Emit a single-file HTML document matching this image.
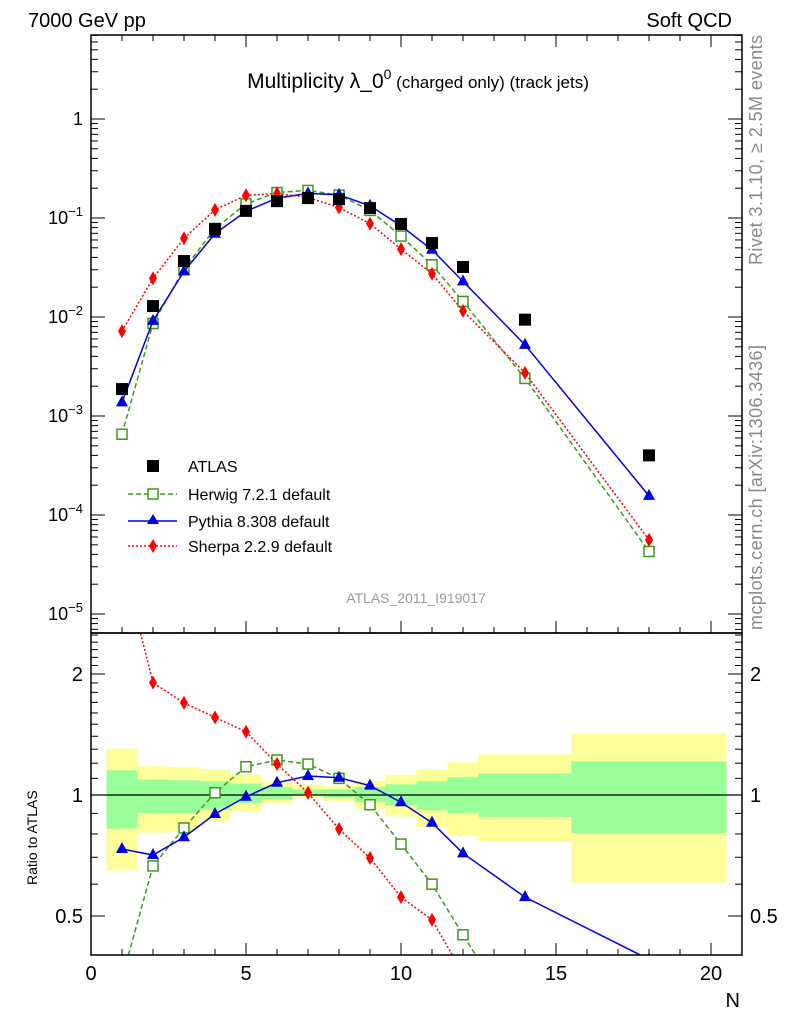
<!DOCTYPE html>
<html><head><meta charset="utf-8"><style>
html,body{margin:0;padding:0;background:#fff;width:786px;height:1024px;overflow:hidden}
svg{display:block;font-family:"Liberation Sans",sans-serif}
</style></head><body>
<svg id="c" width="786" height="1024" viewBox="0 0 786 1024" xmlns="http://www.w3.org/2000/svg">
<text x="28" y="27" font-size="20">7000 GeV pp</text>
<text x="732" y="27" font-size="20" text-anchor="end">Soft QCD</text>
<text x="418" y="88" font-size="21" text-anchor="middle">Multiplicity λ_0<tspan dy="-9" font-size="14">0</tspan><tspan dy="9" font-size="17"> (charged only) (track jets)</tspan></text>
<text x="416" y="603" font-size="14" fill="#999" text-anchor="middle">ATLAS_2011_I919017</text>
<text transform="translate(762,265) rotate(-90)" font-size="18" fill="#888" textLength="230">Rivet 3.1.10, ≥ 2.5M events</text>
<text transform="translate(762,630) rotate(-90)" font-size="18" fill="#888" textLength="285">mcplots.cern.ch [arXiv:1306.3436]</text>
<text transform="translate(37,885) rotate(-90)" font-size="14">Ratio to ATLAS</text>
<text x="740" y="1007" font-size="20" text-anchor="end">N</text>
<g id="bands"></g><g id="marks"></g><g id="axes"></g>
<g>
<rect x="147" y="460" width="12" height="12" fill="#000"/>
<text x="188" y="472" font-size="16">ATLAS</text>
<line x1="128" y1="494" x2="177" y2="494" stroke="#3a9a1a" stroke-width="1.5" stroke-dasharray="5,3"/>
<rect x="148" y="489" width="10" height="10" fill="#fff" stroke="#3a9a1a" stroke-width="1.5"/>
<text x="188" y="500" font-size="16">Herwig 7.2.1 default</text>
<line x1="128" y1="521" x2="177" y2="521" stroke="#0000e0" stroke-width="1.5"/>
<polygon points="153,514 147,524 159,524" fill="#0000e0"/>
<text x="188" y="527" font-size="16">Pythia 8.308 default</text>
<line x1="128" y1="546" x2="177" y2="546" stroke="#f00" stroke-width="1.5" stroke-dasharray="2,2"/>
<polygon points="153,539 157,546 153,553 149,546" fill="#f00"/>
<text x="188" y="552" font-size="16">Sherpa 2.2.9 default</text>
</g>
</svg>
<script>
const xs=[1,2,3,4,5,6,7,8,9,10,11,12,14,18];
const atlas=[1.87e-3,0.0129,0.0368,0.0774,0.118,0.148,0.159,0.155,0.126,0.087,0.056,0.032,0.0094,4.0e-4];
const herwigRatio=[0.35,0.666,0.828,1.013,1.176,1.222,1.194,1.10,0.946,0.755,0.60,0.449,0.255,0.107];
const pythiaRatio=[0.734,0.709,0.785,0.897,0.99,1.073,1.115,1.104,1.055,0.959,0.853,0.716,0.557,0.39];
const sherpaRatio=[3.85,1.903,1.695,1.56,1.437,1.194,1.013,0.823,0.697,0.557,0.489,0.36,0.29,0.14];
const binLo=[0.5,1.5,2.5,3.5,4.5,5.5,6.5,7.5,8.5,9.5,10.5,11.5,12.5,15.5];
const binHi=[1.5,2.5,3.5,4.5,5.5,6.5,7.5,8.5,9.5,10.5,11.5,12.5,15.5,20.5];
const yelHi=[1.304,1.179,1.174,1.159,1.124,1.080,1.061,1.053,1.083,1.121,1.159,1.206,1.263,1.424];
const yelLo=[0.649,0.806,0.809,0.862,0.912,0.953,0.983,0.966,0.925,0.884,0.833,0.791,0.764,0.605];
const grnHi=[1.152,1.092,1.088,1.082,1.067,1.047,1.033,1.033,1.047,1.063,1.082,1.107,1.132,1.213];
const grnLo=[0.825,0.902,0.902,0.918,0.953,0.976,0.998,0.985,0.961,0.942,0.917,0.901,0.882,0.804];
const xTicks=[0,5,10,15,20];
const NS="http://www.w3.org/2000/svg";
const L=91,R=742,T=35,M=633,B=955;
const X=v=>L+v*31;
const Y=v=>119-99*Math.log10(v);
const YR=v=>795-121*Math.log2(v);
function mk(tag,attrs,parent){const e=document.createElementNS(NS,tag);for(const k in attrs)e.setAttribute(k,attrs[k]);document.getElementById(parent).appendChild(e);return e;}
for(let i=0;i<binLo.length;i++){
 const y=mk('rect',{x:X(binLo[i]),y:YR(yelHi[i]),width:X(binHi[i])-X(binLo[i]),height:YR(yelLo[i])-YR(yelHi[i]),fill:'#ffff99'},'bands');
 
 
 const g=mk('rect',{x:X(binLo[i]),y:YR(grnHi[i]),width:X(binHi[i])-X(binLo[i]),height:YR(grnLo[i])-YR(grnHi[i]),fill:'#99ff99'},'bands');
 
 
}
const one=mk('line',{x1:L,x2:R,y1:YR(1),y2:YR(1),stroke:'#000','stroke-width':1.2},'bands');


const defs=mk('defs',{},'marks');
const c1=document.createElementNS(NS,'clipPath');c1.id='cm';defs.appendChild(c1);
const r1=document.createElementNS(NS,'rect');r1.setAttribute('x',L);r1.setAttribute('y',T);r1.setAttribute('width',R-L);r1.setAttribute('height',M-T);c1.appendChild(r1);
const c2=document.createElementNS(NS,'clipPath');c2.id='cr';defs.appendChild(c2);
const r2=document.createElementNS(NS,'rect');r2.setAttribute('x',L);r2.setAttribute('y',M);r2.setAttribute('width',R-L);r2.setAttribute('height',B-M);c2.appendChild(r2);
const series=[
 {n:'herwig',r:herwigRatio,c:'#3a9a1a',d:'5,3',m:'sq'},
 {n:'pythia',r:pythiaRatio,c:'#0000e0',d:'',m:'tri'},
 {n:'sherpa',r:sherpaRatio,c:'#f00',d:'2,2',m:'dia'}];
function marker(m,c,x,y,parent){
 if(m==='sq')return mk('rect',{x:x-5,y:y-5,width:10,height:10,fill:'#fff',stroke:c,'stroke-width':1.5},parent);
 if(m==='tri')return mk('polygon',{points:`${x},${y-7} ${x-6},${y+4} ${x+6},${y+4}`,fill:c},parent);
 return mk('polygon',{points:`${x},${y-7} ${x+4},${y} ${x},${y+7} ${x-4},${y}`,fill:c},parent);
}
const gm=mk('g',{'clip-path':'url(#cm)'},'marks');gm.id='gm';
const gr=mk('g',{'clip-path':'url(#cr)'},'marks');gr.id='gr';
series.forEach(s=>{
 const vals=s.r.map((r,i)=>r*atlas[i]);
 const pm=mk('polyline',{points:xs.map((x,i)=>X(x)+','+Y(vals[i])).join(' '),fill:'none',stroke:s.c,'stroke-width':1.5,'stroke-dasharray':s.d},'gm');
 
 
 const pr=mk('polyline',{points:xs.map((x,i)=>X(x)+','+YR(s.r[i])).join(' '),fill:'none',stroke:s.c,'stroke-width':1.5,'stroke-dasharray':s.d},'gr');
 
 
 xs.forEach((x,i)=>{
  const a=marker(s.m,s.c,X(x),Y(vals[i]),'gm');
  
  
  const b=marker(s.m,s.c,X(x),YR(s.r[i]),'gr');
  
  
 });
});
xs.forEach((x,i)=>{
 const p=mk('rect',{x:X(x)-6,y:Y(atlas[i])-6,width:12,height:12,fill:'#000'},'gm');
 
 
});
const ax='axes';
[[T,M],[M,B]].forEach(([t,b])=>{mk('rect',{x:L,y:t,width:R-L,height:b-t,fill:'none',stroke:'#000','stroke-width':1.5},ax);});
for(let v=0;v<=20.5;v+=1){const big=v%5===0;mk('line',{x1:X(v),x2:X(v),y1:B,y2:B-(big?12:6),stroke:'#000'},ax);mk('line',{x1:X(v),x2:X(v),y1:M,y2:M-(big?12:6),stroke:'#000'},ax);mk('line',{x1:X(v),x2:X(v),y1:T,y2:T+(big?12:6),stroke:'#000'},ax);}
xTicks.forEach(v=>{const t=mk('text',{x:X(v),y:980,'font-size':20,'text-anchor':'middle'},ax);t.textContent=v;});
for(let e=-6;e<=0;e++){for(let k=1;k<10;k++){const v=k*Math.pow(10,e);const y=Y(v);if(y<T||y>M)continue;const len=k===1?14:7;mk('line',{x1:L,x2:L+len,y1:y,y2:y,stroke:'#000'},ax);mk('line',{x1:R,x2:R-len,y1:y,y2:y,stroke:'#000'},ax);}
 const y=Y(Math.pow(10,e));if(y<T||y>M)continue;
 const t=mk('text',{x:L-8,y:y+6,'font-size':18,'text-anchor':'end'},ax);
 
 
 if(e===0)t.textContent='1';else{t.textContent='10';const s=document.createElementNS(NS,'tspan');s.setAttribute('dy','-8');s.setAttribute('font-size','13');s.textContent='−'+(-e);t.appendChild(s);}
}
[0.4,0.5,0.6,0.7,0.8,0.9,1,2].forEach(v=>{const y=YR(v);const big=(v===0.5||v===1||v===2);const len=big?14:7;mk('line',{x1:L,x2:L+len,y1:y,y2:y,stroke:'#000'},ax);mk('line',{x1:R,x2:R-len,y1:y,y2:y,stroke:'#000'},ax);});
[1.1,1.2,1.3,1.4,1.5,1.6,1.7,1.8,1.9,2.1,2.2,2.3,2.4,2.5].forEach(v=>{const y=YR(v);if(y<M)return;mk('line',{x1:L,x2:L+7,y1:y,y2:y,stroke:'#000'},ax);mk('line',{x1:R,x2:R-7,y1:y,y2:y,stroke:'#000'},ax);});
[2,1,0.5].forEach(v=>{[[L-8,'end'],[R+8,'start']].forEach(([x,a])=>{const t=mk('text',{x:x,y:YR(v)+7,'font-size':20,'text-anchor':a},ax);t.textContent=String(v);});});
</script>
</body></html>
